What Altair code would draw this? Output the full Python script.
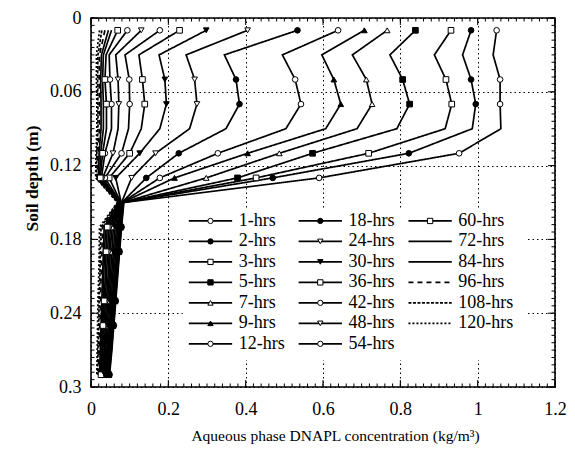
import altair as alt
import pandas as pd

# ---------------- data ----------------
DEPTH = [0.01, 0.03, 0.05, 0.07, 0.09, 0.11, 0.13, 0.15,
         0.17, 0.19, 0.21, 0.23, 0.25, 0.27, 0.29]
MARKER_DEPTH = [0.01, 0.05, 0.07, 0.11, 0.13, 0.17, 0.19, 0.23, 0.25, 0.29]

SERIES = ["1-hrs", "2-hrs", "3-hrs", "5-hrs", "7-hrs", "9-hrs", "12-hrs",
          "18-hrs", "24-hrs", "30-hrs", "36-hrs", "42-hrs", "48-hrs", "54-hrs",
          "60-hrs", "72-hrs", "84-hrs", "96-hrs", "108-hrs", "120-hrs"]

C01 = [1.049, 1.040, 1.058, 1.058, 1.060, 0.952, 0.590, 0.085, 0.079, 0.074, 0.069, 0.064, 0.059, 0.054, 0.048]
C02 = [0.983, 0.961, 0.983, 0.995, 0.986, 0.822, 0.470, 0.084, 0.078, 0.073, 0.068, 0.063, 0.058, 0.053, 0.047]
C03 = [0.931, 0.888, 0.918, 0.933, 0.916, 0.718, 0.427, 0.083, 0.077, 0.072, 0.067, 0.062, 0.057, 0.052, 0.046]
C05 = [0.839, 0.773, 0.806, 0.824, 0.791, 0.573, 0.379, 0.082, 0.076, 0.071, 0.066, 0.061, 0.056, 0.051, 0.045]
C07 = [0.766, 0.676, 0.712, 0.727, 0.688, 0.487, 0.298, 0.082, 0.075, 0.070, 0.065, 0.060, 0.055, 0.050, 0.044]
C09 = [0.707, 0.597, 0.628, 0.646, 0.607, 0.405, 0.216, 0.081, 0.074, 0.069, 0.064, 0.059, 0.054, 0.049, 0.043]
C12 = [0.639, 0.495, 0.528, 0.543, 0.504, 0.328, 0.178, 0.080, 0.072, 0.067, 0.062, 0.057, 0.052, 0.047, 0.042]
C18 = [0.534, 0.345, 0.375, 0.384, 0.349, 0.227, 0.143, 0.080, 0.069, 0.064, 0.059, 0.055, 0.050, 0.045, 0.040]
C24 = [0.405, 0.246, 0.268, 0.274, 0.255, 0.167, 0.105, 0.079, 0.066, 0.061, 0.056, 0.052, 0.048, 0.043, 0.038]
C30 = [0.298, 0.176, 0.191, 0.195, 0.178, 0.126, 0.064, 0.078, 0.062, 0.058, 0.053, 0.049, 0.045, 0.041, 0.036]
C36 = [0.229, 0.124, 0.133, 0.139, 0.130, 0.100, 0.047, 0.077, 0.058, 0.054, 0.050, 0.046, 0.042, 0.038, 0.034]
C42 = [0.178, 0.088, 0.099, 0.100, 0.097, 0.079, 0.036, 0.076, 0.054, 0.050, 0.047, 0.043, 0.040, 0.036, 0.032]
C48 = [0.130, 0.064, 0.070, 0.072, 0.070, 0.057, 0.030, 0.075, 0.050, 0.047, 0.044, 0.040, 0.037, 0.034, 0.030]
C54 = [0.094, 0.047, 0.049, 0.053, 0.053, 0.036, 0.027, 0.074, 0.046, 0.043, 0.040, 0.037, 0.034, 0.031, 0.028]
C60 = [0.069, 0.039, 0.036, 0.040, 0.040, 0.030, 0.024, 0.073, 0.042, 0.039, 0.037, 0.034, 0.031, 0.029, 0.026]
C72 = [0.053, 0.032, 0.030, 0.032, 0.032, 0.025, 0.022, 0.072, 0.038, 0.035, 0.033, 0.031, 0.028, 0.026, 0.024]
C84 = [0.045, 0.027, 0.025, 0.026, 0.026, 0.021, 0.019, 0.071, 0.034, 0.032, 0.030, 0.028, 0.026, 0.024, 0.022]
C96 = [0.036, 0.022, 0.021, 0.022, 0.022, 0.018, 0.016, 0.070, 0.030, 0.028, 0.026, 0.025, 0.023, 0.021, 0.019]
C108 = [0.028, 0.018, 0.017, 0.018, 0.018, 0.015, 0.014, 0.069, 0.026, 0.024, 0.023, 0.021, 0.020, 0.018, 0.017]
C120 = [0.022, 0.014, 0.014, 0.015, 0.015, 0.013, 0.012, 0.068, 0.022, 0.021, 0.020, 0.018, 0.017, 0.016, 0.015]

VALUES = [C01, C02, C03, C05, C07, C09, C12, C18, C24, C30, C36, C42, C48,
          C54, C60, C72, C84, C96, C108, C120]

X_TICKS = [0, 0.2, 0.4, 0.6, 0.8, 1.0, 1.2]
Y_TICKS = [0, 0.06, 0.12, 0.18, 0.24, 0.3]
X_MINOR = [round(i * 0.02, 2) for i in range(61)]
Y_MINOR = [round(i * 0.006, 3) for i in range(51)]

# ---------------- styles ----------------
MARKER = {  # series -> (shape, filled)
    "1-hrs": ("circle", False), "2-hrs": ("circle", True),
    "3-hrs": ("square", False), "5-hrs": ("square", True),
    "7-hrs": ("triangle-up", False), "9-hrs": ("triangle-up", True),
    "12-hrs": ("circle", False), "18-hrs": ("circle", True),
    "24-hrs": ("triangle-down", False), "30-hrs": ("triangle-down", True),
    "36-hrs": ("square", False), "42-hrs": ("circle", False),
    "48-hrs": ("triangle-down", False), "54-hrs": ("circle", False),
    "60-hrs": ("square", False),
}
DASH = {s: [1, 0] for s in SERIES}
DASH.update({"96-hrs": [5, 4], "108-hrs": [3, 1.5], "120-hrs": [2, 2]})
WIDTH = {s: 1.7 for s in SERIES}
WIDTH.update({"72-hrs": 3.0, "84-hrs": 2.0, "96-hrs": 1.3, "108-hrs": 2.8, "120-hrs": 1.2})

FONT = "Liberation Serif"
W, H = 464, 369

# ---------------- tables ----------------
rows = []
for s, vals in zip(SERIES, VALUES):
    for d, c in zip(DEPTH, vals):
        rows.append({"series": s, "depth": d, "conc": c})
df = pd.DataFrame(rows)
mk = df[df["depth"].isin(MARKER_DEPTH) & df["series"].isin(list(MARKER))]
open_s = [s for s in MARKER if not MARKER[s][1]]
fill_s = [s for s in MARKER if MARKER[s][1]]
mk_open = mk[mk["series"].isin(open_s)]
mk_fill = mk[mk["series"].isin(fill_s)]

# legend layout (data units of the plot)
LEG_X0, LEG_DX, LEG_LEN, LEG_TXT = 0.253, 0.284, 0.112, 0.129
LEG_Y0, LEG_DY = 0.165, 0.01665
leg = []
for i, s in enumerate(SERIES):
    col, row = i // 7, i % 7
    x0 = LEG_X0 + col * LEG_DX
    leg.append({"series": s, "x0": x0, "x1": x0 + LEG_LEN, "xm": x0 + LEG_LEN / 2,
                "xt": x0 + LEG_TXT, "depth": LEG_Y0 + row * LEG_DY})
leg = pd.DataFrame(leg)
leg_line = leg.rename(columns={"x0": "conc", "x1": "conc2"})
leg_pt = leg[leg["series"].isin(list(MARKER))].rename(columns={"xm": "conc"})
leg_pt_open = leg_pt[leg_pt["series"].isin(open_s)]
leg_pt_fill = leg_pt[leg_pt["series"].isin(fill_s)]
leg_txt = leg.rename(columns={"xt": "conc"})
leg_bg = pd.DataFrame([{"conc": 0.237, "conc2": 1.13, "depth": 0.155, "depth2": 0.278}])

# ---------------- encodings ----------------
xscale = alt.Scale(domain=[0, 1.2], nice=False, zero=False)
yscale = alt.Scale(domain=[0, 0.3], nice=False, zero=False, reverse=True)
xaxis = alt.Axis(values=X_TICKS, format=".1~f", grid=True, ticks=False, domain=False,
                 labelPadding=13, titlePadding=10, labelFlush=False, labelOverlap=False,
                 labelFont=FONT, labelFontSize=18, labelColor="black",
                 titleFont=FONT, titleFontSize=15.5, titleColor="black", titleFontWeight="normal",
                 titleX=244,
                 gridColor="black", gridDash=[1.5, 3], gridWidth=1, gridOpacity=1,
                 title="Aqueous phase DNAPL concentration (kg/m³)")
yaxis = alt.Axis(values=Y_TICKS, format=".2~f", grid=True, ticks=False, domain=False,
                 labelPadding=10, titlePadding=8, labelFlush=False, labelOverlap=False,
                 labelFont=FONT, labelFontSize=18, labelColor="black",
                 titleFont=FONT, titleFontSize=17.5, titleColor="black", titleFontWeight="bold",
                 titleY=160,
                 gridColor="black", gridDash=[1.5, 3], gridWidth=1, gridOpacity=1,
                 title="Soil depth (m)")
X = alt.X("conc:Q", scale=xscale, axis=xaxis)
Y = alt.Y("depth:Q", scale=yscale, axis=yaxis)

dash_enc = alt.StrokeDash("series:N", scale=alt.Scale(domain=SERIES, range=[DASH[s] for s in SERIES]), legend=None)
width_enc = alt.StrokeWidth("series:O", scale=alt.Scale(domain=SERIES, range=[WIDTH[s] for s in SERIES]), legend=None)
mser = list(MARKER)
shape_enc = alt.Shape("series:N", scale=alt.Scale(domain=mser, range=[MARKER[s][0] for s in mser]), legend=None)

base = alt.Chart(df)

bg = alt.Chart(leg_bg).mark_rect(fill="white").encode(
    x=X, x2="conc2:Q", y=Y, y2="depth2:Q")

lines = base.mark_line(color="black", strokeJoin="miter").encode(
    x=X, y=Y, detail="series:N", order="depth:Q", strokeDash=dash_enc, strokeWidth=width_enc)

pts_open = alt.Chart(mk_open).mark_point(filled=True, fill="white", stroke="black", strokeWidth=1,
                                         size=32, opacity=1).encode(x=X, y=Y, shape=shape_enc)
pts_fill = alt.Chart(mk_fill).mark_point(filled=True, fill="black", stroke="black", strokeWidth=1,
                                         size=32, opacity=1).encode(x=X, y=Y, shape=shape_enc)

# inward ticks on all four sides
xmaj = pd.DataFrame({"conc": X_TICKS})
xmin = pd.DataFrame({"conc": X_MINOR})
ymaj = pd.DataFrame({"depth": Y_TICKS})
ymin = pd.DataFrame({"depth": Y_MINOR})
tick_layers = []
for data, ln in ((xmin, 3.5), (xmaj, 7)):
    tick_layers.append(alt.Chart(data).mark_rule(color="black", strokeWidth=1).encode(
        x=X, y=alt.value(H), y2=alt.value(H - ln)))
    tick_layers.append(alt.Chart(data).mark_rule(color="black", strokeWidth=1).encode(
        x=X, y=alt.value(0), y2=alt.value(ln)))
for data, ln in ((ymin, 3.5), (ymaj, 7)):
    tick_layers.append(alt.Chart(data).mark_rule(color="black", strokeWidth=1).encode(
        y=Y, x=alt.value(0), x2=alt.value(ln)))
    tick_layers.append(alt.Chart(data).mark_rule(color="black", strokeWidth=1).encode(
        y=Y, x=alt.value(W), x2=alt.value(W - ln)))

leg_lines = alt.Chart(leg_line).mark_rule(color="black").encode(
    x=X, x2="conc2:Q", y=Y, strokeDash=dash_enc, strokeWidth=width_enc)
leg_po = alt.Chart(leg_pt_open).mark_point(filled=True, fill="white", stroke="black", strokeWidth=1,
                                           size=28, opacity=1).encode(x=X, y=Y, shape=shape_enc)
leg_pf = alt.Chart(leg_pt_fill).mark_point(filled=True, fill="black", stroke="black", strokeWidth=1,
                                           size=28, opacity=1).encode(x=X, y=Y, shape=shape_enc)
leg_text = alt.Chart(leg_txt).mark_text(align="left", baseline="middle", font=FONT, fontSize=18,
                                        color="black").encode(x=X, y=Y, text="series:N")

chart = alt.layer(bg, lines, pts_open, pts_fill, *tick_layers, leg_lines, leg_po, leg_pf, leg_text).properties(
    width=W, height=H,
    background="white",
    autosize=alt.AutoSizeParams(type="none"),
    padding={"left": 83, "top": 10, "right": 12, "bottom": 58},
).configure_view(stroke="black", strokeWidth=1.6).configure_axis(
    labelFont=FONT, labelFontSize=18, labelColor="black",
    titleFont=FONT, titleColor="black",
    gridColor="black", gridDash=[1.5, 3], gridWidth=1, gridOpacity=1,
)

chart.save("out.html", embed_options={"renderer": "svg", "actions": False})
